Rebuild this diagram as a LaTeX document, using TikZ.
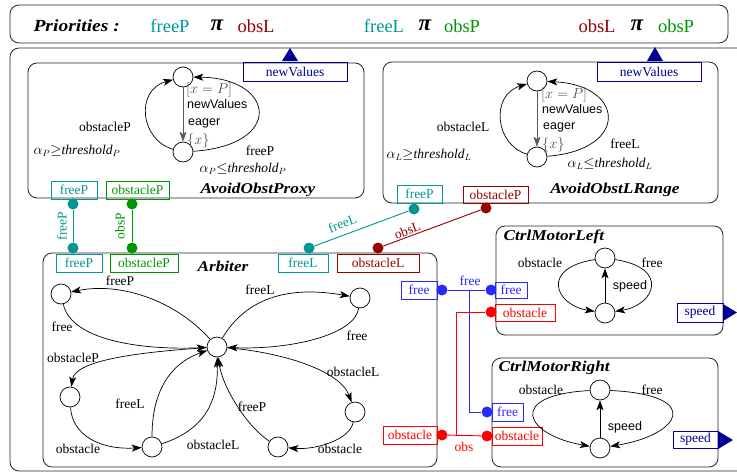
\documentclass[tikz,border=0pt]{standalone}
\usepackage{fontspec}
\setmainfont{Liberation Serif}
\setsansfont{Liberation Sans}
\newfontfamily\titlefont[FakeStretch=1.15]{Liberation Serif}
\usetikzlibrary{arrows.meta}
\definecolor{cteal}{RGB}{0,150,150}
\definecolor{cgreen}{RGB}{0,150,0}
\definecolor{cdred}{RGB}{150,0,0}
\definecolor{cblue}{RGB}{40,40,255}
\definecolor{cred}{RGB}{255,0,0}
\definecolor{cnavy}{RGB}{0,0,150}
\newcommand{\bpi}{{\fontsize{23}{24}\selectfont\bfseries\itshape π}}
\tikzset{
  frame/.style={draw=black!85, line width=0.8pt, rounded corners=9pt},
  port/.style={draw, line width=0.7pt, inner sep=0pt, minimum height=18pt, font=\fontsize{13.5}{15}\selectfont},
  pdot/.style={circle, fill, inner sep=0pt, minimum size=11pt},
  st/.style={circle, draw, line width=0.7pt, minimum size=20pt, inner sep=0pt},
  tr/.style={line width=0.7pt, -{Stealth[length=10pt,width=7pt,inset=2.5pt]}},
  lbl/.style={font=\fontsize{13.5}{15}\selectfont, inner sep=1pt},
  slbl/.style={font=\sffamily\fontsize{12.5}{14}\selectfont, inner sep=0pt, anchor=west},
  ttl/.style={font=\titlefont\bfseries\itshape\fontsize{15}{17}\selectfont},
  bigttl/.style={font=\titlefont\bfseries\itshape\fontsize{17}{19}\selectfont},
  prio/.style={font=\fontsize{18.5}{20}\selectfont},
  con/.style={line width=0.9pt},
}
\begin{document}
\begin{tikzpicture}[x=1pt,y=-1pt]
\useasboundingbox (0,0) rectangle (737,474);
% frames
\draw[frame] (10,5) rectangle (728,43);
\draw[frame] (10,48) rectangle (760,471);
% priorities
\node[bigttl, anchor=west] (ptitle) at (30,26) {Priorities :};
\node[prio, text=cteal] (p1a) at (170,26) {freeP};
\node[prio] (p1b) at (217,25) {\bpi};
\node[prio, text=cdred] (p1c) at (256,26) {obsL};
\node[prio, text=cteal] (p2a) at (384,26) {freeL};
\node[prio] (p2b) at (425,25) {\bpi};
\node[prio, text=cgreen] (p2c) at (462,26) {obsP};
\node[prio, text=cdred] (p3a) at (597,26) {obsL};
\node[prio] (p3b) at (637,25) {\bpi};
\node[prio, text=cgreen] (p3c) at (676,26) {obsP};

% ================= AvoidObstProxy
\draw[frame] (28,63) rectangle (364,198);
\node[ttl] (t1) at (258,190) {AvoidObstProxy};
\node[port, draw=cnavy, text=cnavy, minimum width=104pt, minimum height=19pt] (pNV1) at (295,71.5) {newValues};
\fill[cnavy] (282,61) -- (290,48) -- (298,61) -- cycle;
\node[port, draw=cteal, text=cteal, minimum width=46pt] (pFP1) at (74,190) {freeP};
\node[port, draw=cgreen, text=cgreen, minimum width=63pt] (pOP1) at (137.5,190) {obstacleP};
\node[st] (T1) at (183,77) {};
\node[st] (B1) at (183,152) {};
\draw[tr, black!65] (T1) -- (B1);
\draw[tr] (B1) .. controls (140,140) and (135,90) .. (T1);
\draw[tr] (B1) .. controls (285,145) and (275,78) .. (T1);
\node[lbl, anchor=west, text=black!70] (g1) at (185,90) {$[x=P]$};
\node[slbl] (nv1) at (187,104) {newValues};
\node[slbl] (e1) at (188,123) {eager};
\node[lbl, anchor=west, text=black!70] (x1) at (186,141) {$\{x\}$};
\node[lbl] (l1a) at (105,127) {obstacleP};
\node[lbl] (l1b) at (77,151) {$\alpha_P{\geq}\mathit{threshold}_P$};
\node[lbl] (l1c) at (260,151) {freeP};
\node[lbl] (l1d) at (243,169) {$\alpha_P{\leq}\mathit{threshold}_P$};

% ================= AvoidObstLRange
\draw[frame] (383,62) rectangle (718,203);
\node[ttl] (t2) at (615,190) {AvoidObstLRange};
\node[port, draw=cnavy, text=cnavy, minimum width=104pt, minimum height=19pt] (pNV2) at (649,71.5) {newValues};
\fill[cnavy] (647,61) -- (655,47) -- (663,61) -- cycle;
\node[port, draw=cteal, text=cteal, minimum width=45pt] (pFP2) at (419.5,194) {freeP};
\node[port, draw=cdred, text=cdred, minimum width=65pt, minimum height=17pt] (pOP2) at (495.5,194.5) {obstacleP};
\node[st] (T2) at (537,81) {};
\node[st] (B2) at (537,157) {};
\draw[tr, black!65] (T2) -- (B2);
\draw[tr] (B2) .. controls (495,145) and (490,95) .. (T2);
\draw[tr] (B2) .. controls (630,150) and (625,85) .. (T2);
\node[lbl, anchor=west, text=black!70] (g2) at (540,95) {$[x=P]$};
\node[slbl] (nv2) at (542,109) {newValues};
\node[slbl] (e2) at (543,127) {eager};
\node[lbl, anchor=west, text=black!70] (x2) at (541,145) {$\{x\}$};
\node[lbl] (l2a) at (463,127) {obstacleL};
\node[lbl] (l2b) at (429,155) {$\alpha_L{\geq}\mathit{threshold}_L$};
\node[lbl] (l2c) at (625,144) {freeL};
\node[lbl] (l2d) at (610,164) {$\alpha_L{\leq}\mathit{threshold}_L$};

% ================= Arbiter
\draw[frame] (43,253) rectangle (437,467);
\node[ttl] (t3) at (223,266) {Arbiter};
\node[port, draw=cteal, text=cteal, minimum width=46pt] (aFP) at (79,263) {freeP};
\node[port, draw=cgreen, text=cgreen, minimum width=68pt] (aOP) at (144,263) {obstacleP};
\node[port, draw=cteal, text=cteal, minimum width=50pt] (aFL) at (303,263) {freeL};
\node[port, draw=cdred, text=cdred, minimum width=82pt] (aOL) at (378,263) {obstacleL};
\node[port, draw=cblue, text=cblue, minimum width=36pt] (aF) at (419,290) {free};
\node[port, draw=cred, text=cred, minimum width=54pt] (aO) at (410,435) {obstacle};
\node[st] (C) at (217,347) {};
\node[st] (TL) at (61,294) {};
\node[st] (TR) at (360,298) {};
\node[st] (ML) at (70,397) {};
\node[st] (BML) at (152,447) {};
\node[st] (BMR) at (278,447) {};
\node[st] (R) at (355,412) {};
\draw[tr] (C) .. controls (175,300) and (120,282) .. (TL);
\draw[tr] (TL) .. controls (72,343) and (150,350) .. (C);
\draw[tr] (C) .. controls (245,300) and (285,285) .. (TR);
\draw[tr] (TR) .. controls (355,335) and (290,350) .. (C);
\draw[tr] (C) .. controls (140,352) and (75,360) .. (ML);
\draw[tr] (ML) .. controls (72,435) and (100,450) .. (BML);
\draw[tr] (BML) .. controls (152,380) and (180,360) .. (C);
\draw[tr] (BML) .. controls (210,428) and (218,395) .. (C);
\draw[tr] (BMR) .. controls (245,425) and (222,385) .. (C);
\draw[tr] (C) .. controls (280,352) and (340,370) .. (R);
\draw[tr] (R) .. controls (350,440) and (315,450) .. (BMR);
\node[lbl] (a1) at (120,281) {freeP};
\node[lbl] (a2) at (62,327) {free};
\node[lbl] (a3) at (260,290) {freeL};
\node[lbl] (a4) at (357,336) {free};
\node[lbl] (a5) at (73,358) {obstacleP};
\node[lbl] (a6) at (78,449) {obstacle};
\node[lbl] (a7) at (130,404) {freeL};
\node[lbl] (a8) at (213,445) {obstacleL};
\node[lbl] (a9) at (353,372) {obstacleL};
\node[lbl] (a10) at (340,449) {obstacle};
\node[lbl] (a11) at (252,407) {freeP};

% ================= CtrlMotorLeft
\draw[frame] (496,226) rectangle (723,335);
\node[ttl, anchor=west] (t4) at (500,237) {CtrlMotorLeft};
\node[port, draw=cblue, text=cblue, minimum width=32pt, minimum height=16pt] (lF) at (511,290) {free};
\node[port, draw=cred, text=cred, minimum width=60pt, minimum height=17pt] (lO) at (525,312.5) {obstacle};
\node[port, draw=cnavy, text=cnavy, minimum width=46pt, minimum height=19pt] (lS) at (700,312.5) {speed};
\fill[cnavy] (723,304) -- (737,312.5) -- (723,321) -- cycle;
\node[st] (T3) at (605,258) {};
\node[st] (B3) at (605,313) {};
\draw[tr] (B3) -- (T3);
\draw[tr] (T3) .. controls (540,268) and (555,305) .. (B3);
\draw[tr] (T3) .. controls (670,268) and (655,305) .. (B3);
\node[lbl] (m1) at (540,263) {obstacle};
\node[lbl] (m2) at (652,263) {free};
\node[slbl, anchor=center] (m3) at (630,286) {speed};

% ================= CtrlMotorRight
\draw[frame] (492,358) rectangle (718,467);
\node[ttl, anchor=west] (t5) at (495,368) {CtrlMotorRight};
\node[port, draw=cblue, text=cblue, minimum width=31pt] (rF) at (507.5,412) {free};
\node[port, draw=cred, text=cred, minimum width=50pt] (rO) at (517,436) {obstacle};
\node[port, draw=cnavy, text=cnavy, minimum width=45pt, minimum height=17pt] (rS) at (695.5,439.5) {speed};
\fill[cnavy] (718,431) -- (733,440) -- (718,449) -- cycle;
\node[st] (T4) at (600,390) {};
\node[st] (B4) at (600,448) {};
\draw[tr] (B4) -- (T4);
\draw[tr] (T4) .. controls (505,395) and (525,435) .. (B4);
\draw[tr] (T4) .. controls (705,395) and (680,435) .. (B4);
\node[lbl] (n1) at (541,390) {obstacle};
\node[lbl] (n2) at (652,390) {free};
\node[slbl, anchor=center] (n3) at (625,427) {speed};

% ================= connectors
\node[pdot, fill=cteal] (d1) at (73,204) {};
\node[pdot, fill=cgreen] (d2) at (132,204) {};
\node[pdot, fill=cteal] (d3) at (73,248) {};
\node[pdot, fill=cgreen] (d4) at (132,248) {};
\node[pdot, fill=cteal] (d5) at (309,248) {};
\node[pdot, fill=cdred] (d6) at (378,248) {};
\node[pdot, fill=cteal] (d7) at (414,209) {};
\node[pdot, fill=cdred] (d8) at (486,208) {};
\node[pdot, fill=cblue] (d9) at (442,290) {};
\node[pdot, fill=cblue] (d10) at (491,290) {};
\node[pdot, fill=cred] (d11) at (491,312) {};
\node[pdot, fill=cblue] (d12) at (487,412) {};
\node[pdot, fill=cred] (d13) at (442,435) {};
\node[pdot, fill=cred] (d14) at (487,436) {};
\coordinate (jb1) at (469,290);
\coordinate (jb2) at (469,412);
\coordinate (jr1) at (456,436);
\coordinate (jr2) at (456,312);

\draw[con, cteal] (d1) -- (d3);
\node[lbl, text=cteal, rotate=90] (c1) at (62,226) {freeP};
\draw[con, cgreen] (d2) -- (d4);
\node[lbl, text=cgreen, rotate=90] (c2) at (120,226) {obsP};
\draw[con, cteal] (d5) -- node[lbl, pos=0.34, above=5pt, sloped, text=cteal] {freeL} (d7);
\draw[con, cdred] (d6) -- node[lbl, pos=0.27, above=0pt, sloped, text=cdred] {obsL} (d8);
\draw[con, cblue] (d9) -- (d10);
\node[lbl, text=cblue] (c3) at (470,281) {free};
\draw[con, cblue] (jb1) -- (jb2) -- (d12);
\draw[con, cred] (d13) -- (d14);
\node[lbl, text=cred] (c4) at (464,447) {obs};
\draw[con, cred] (jr1) -- (jr2) -- (d11);
\end{tikzpicture}
\end{document}
